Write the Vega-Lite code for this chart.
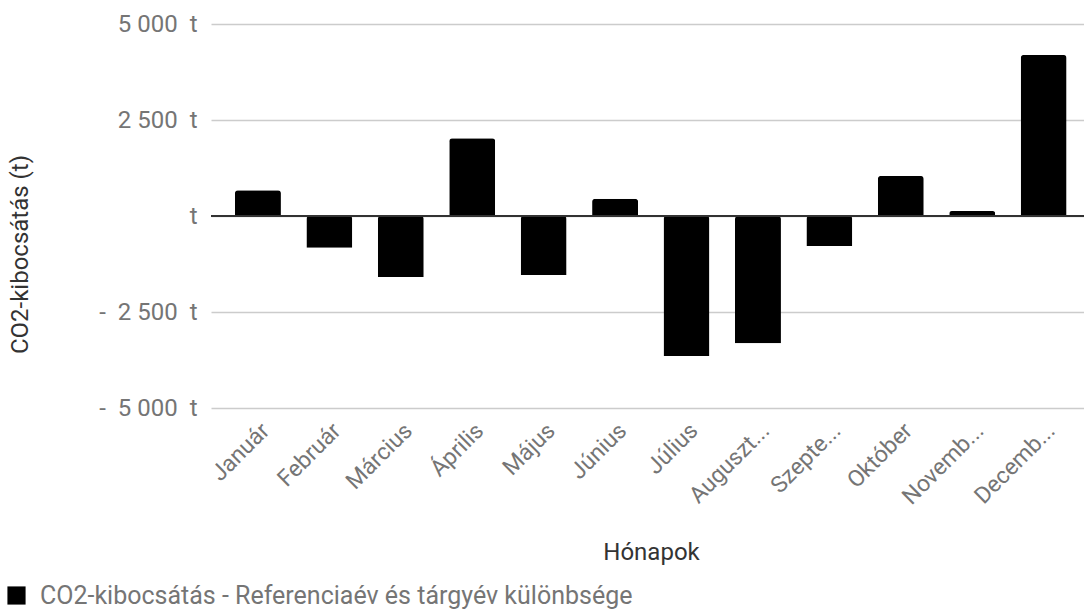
{
  "$schema": "https://vega.github.io/schema/vega-lite/v6.json",
  "width": 873,
  "height": 384,
  "autosize": "none",
  "padding": {"left": 211, "top": 24, "right": 0, "bottom": 203},
  "background": "white",
  "data": {
    "values": [
      {"honap": "Január", "ertek": 669},
      {"honap": "Február", "ertek": -824},
      {"honap": "Március", "ertek": -1588},
      {"honap": "Április", "ertek": 2023},
      {"honap": "Május", "ertek": -1536},
      {"honap": "Június", "ertek": 451},
      {"honap": "Július", "ertek": -3646},
      {"honap": "Augusztus", "ertek": -3316},
      {"honap": "Szeptember", "ertek": -781},
      {"honap": "Október", "ertek": 1042},
      {"honap": "November", "ertek": 130},
      {"honap": "December", "ertek": 4193}
    ]
  },
  "config": {
    "view": {"stroke": null},
    "font": "Roboto"
  },
  "layer": [
    {
      "mark": {"type": "bar", "cornerRadiusEnd": 3},
      "encoding": {
        "x": {
          "field": "honap",
          "type": "nominal",
          "sort": null,
          "title": "Hónapok",
          "scale": {"paddingInner": 0.356, "paddingOuter": 0.289, "align": 0.58},
          "axis": {
            "domain": false,
            "ticks": false,
            "labelAngle": -45,
            "labelFont": "Roboto",
            "labelFontSize": 23,
            "labelColor": "#757575",
            "labelPadding": 11,
            "labelExpr": "datum.label == 'Augusztus' ? 'Auguszt...' : datum.label == 'Szeptember' ? 'Szepte...' : datum.label == 'November' ? 'Novemb...' : datum.label == 'December' ? 'Decemb...' : datum.label",
            "titleFont": "Roboto",
            "titleFontSize": 24,
            "titleFontWeight": "normal",
            "titleColor": "#333333",
            "titleX": 440,
            "titleY": 132
          }
        },
        "y": {
          "field": "ertek",
          "type": "quantitative",
          "title": "CO2-kibocsátás (t)",
          "scale": {"domain": [-5000, 5000], "nice": false},
          "axis": {
            "values": [-5000, -2500, 0, 2500, 5000],
            "domain": false,
            "ticks": false,
            "gridColor": "#cccccc",
            "gridWidth": 1.5,
            "labelFont": "Roboto",
            "labelFontSize": 24,
            "labelColor": "#757575",
            "labelPadding": 14,
            "labelExpr": "datum.value == 0 ? 't' : (datum.value < 0 ? '-\u00a0\u00a0' : '') + replace(format(abs(datum.value), ',d'), ',', ' ') + '\u00a0 t'",
            "titleFont": "Roboto",
            "titleFontSize": 24,
            "titleFontWeight": "normal",
            "titleColor": "#333333",
            "titleX": -179,
            "titleY": 230
          }
        },
        "color": {
          "datum": "CO2-kibocsátás - Referenciaév és tárgyév különbsége",
          "type": "nominal",
          "scale": {"range": ["#000000"]},
          "legend": {
            "title": null,
            "orient": "none",
            "legendX": -207,
            "legendY": 559,
            "symbolType": "square",
            "symbolSize": 330,
            "symbolStrokeWidth": 0,
            "labelFont": "Roboto",
            "labelFontSize": 25,
            "labelColor": "#757575",
            "labelOffset": 11,
            "labelLimit": 900
          }
        }
      }
    },
    {
      "mark": {"type": "rule", "color": "#333333", "strokeWidth": 1.5},
      "encoding": {"y": {"datum": 0}}
    }
  ]
}
